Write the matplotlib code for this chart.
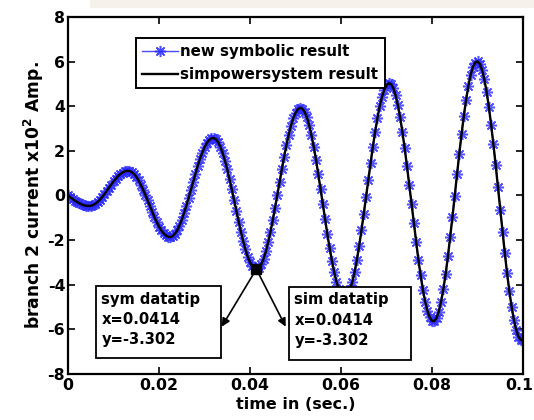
import numpy as np
import matplotlib
matplotlib.use("Agg")
import matplotlib.pyplot as plt
import matplotlib.transforms as mtransforms
from matplotlib.patches import Rectangle
from matplotlib.lines import Line2D

# ---------------- data ----------------
sample_step = 0.0005  # s, spacing of the symbolic-result samples
current = [
    0.00, -0.08, -0.15, -0.23, -0.29, -0.35, -0.40, -0.44, -0.46, -0.47,
    -0.46, -0.43, -0.37, -0.29, -0.19, -0.07, 0.06, 0.20, 0.35, 0.49, 0.63, 0.75, 0.87, 0.96, 1.03, 1.08, 1.11,
    1.10, 1.05, 0.97, 0.84, 0.68, 0.48, 0.26, 0.03, -0.22, -0.48, -0.73, -0.97, -1.19, -1.39, -1.56, -1.69, -1.79, -1.85,
    -1.86, -1.82, -1.71, -1.56, -1.35, -1.09, -0.79, -0.47, -0.11, 0.25, 0.62, 0.98, 1.32, 1.64, 1.91, 2.16, 2.35, 2.48, 2.56,
    2.58, 2.52, 2.39, 2.18, 1.90, 1.56, 1.17, 0.73, 0.27, -0.21, -0.70, -1.18, -1.63, -2.05, -2.42, -2.74, -2.99, -3.17, -3.27,
    -3.30, -3.23, -3.07, -2.83, -2.50, -2.09, -1.63, -1.11, -0.55, 0.02, 0.61, 1.18, 1.74, 2.25, 2.72, 3.13, 3.46, 3.70, 3.86, 3.93,
    3.89, 3.75, 3.50, 3.15, 2.71, 2.19, 1.61, 0.97, 0.30, -0.38, -1.07, -1.73, -2.36, -2.92, -3.43, -3.86, -4.19, -4.42, -4.54,
    -4.55, -4.44, -4.21, -3.87, -3.42, -2.87, -2.25, -1.56, -0.83, -0.07, 0.70, 1.45, 2.18, 2.85, 3.46, 3.99, 4.41, 4.73, 4.94, 5.03,
    4.99, 4.81, 4.49, 4.05, 3.50, 2.84, 2.11, 1.31, 0.47, -0.39, -1.25, -2.08, -2.87, -3.58, -4.23, -4.76, -5.17, -5.46, -5.62,
    -5.63, -5.49, -5.20, -4.76, -4.19, -3.51, -2.73, -1.86, -0.95, -0.01, 0.95, 1.88, 2.76, 3.58, 4.30, 4.92, 5.41, 5.76, 5.96,
    6.01, 5.90, 5.63, 5.21, 4.65, 3.96, 3.17, 2.29, 1.35, 0.36, -0.63, -1.63, -2.58, -3.48, -4.29, -4.99, -5.58, -6.02, -6.32, -6.47, -6.48,
]
time = np.arange(len(current)) * sample_step

series_labels = ["new symbolic result", "simpowersystem result"]
datatip_x = 0.0414
datatip_y = -3.302
datatip_names = ["sym datatip", "sim datatip"]

x_ticks = [0, 0.02, 0.04, 0.06, 0.08, 0.1]
x_ticklabels = ["0", "0.02", "0.04", "0.06", "0.08", "0.1"]
y_ticks = [-8, -6, -4, -2, 0, 2, 4, 6, 8]

# ---------------- style ----------------
plt.rcParams["font.family"] = ["DejaVu Sans"]
plt.rcParams["font.weight"] = "bold"
plt.rcParams["mathtext.default"] = "bf"
plt.rcParams["axes.unicode_minus"] = False

W, H = 534, 420
fig = plt.figure(figsize=(W / 100, H / 100), dpi=100)
fig.patch.set_facecolor("white")
# faint beige band (scan artefact) at the top
fig.patches.append(Rectangle((90 / W, 1 - 8 / H), (W - 90) / W, 8 / H,
                             transform=fig.transFigure, facecolor="#f1e9dd",
                             edgecolor="none", alpha=0.6, zorder=0))

ax = fig.add_axes([68 / W, 1 - 374 / H, 455 / W, 357 / H])

BLUE = "#2a2aff"
ax.plot(time, current, color=BLUE, lw=1.0, marker=(8, 2, 0), ms=8,
        mew=1.1, alpha=0.8, label=series_labels[0], zorder=2)
ax.plot(time, current, color="black", lw=1.7, label=series_labels[1], zorder=3)

ax.set_xlim(0, 0.1)
ax.set_ylim(-8, 8)
ax.set_xticks(x_ticks)
ax.set_xticklabels(x_ticklabels)
ax.set_yticks(y_ticks)
ax.tick_params(direction="in", length=5, width=1.2, top=True, right=True,
               labelsize=11.3, pad=2)
ax.tick_params(axis="x", pad=3)
for lab in ax.get_xticklabels() + ax.get_yticklabels():
    lab.set_fontweight("bold")
for sp in ax.spines.values():
    sp.set_linewidth(1.6)

# keep the last x tick label inside the canvas (as in the reference)
last = ax.get_xticklabels()[-1]
last.set_transform(last.get_transform() +
                   mtransforms.ScaledTranslation(-4 / 100, 0, fig.dpi_scale_trans))

ax.set_xlabel("time in (sec.)", fontsize=11.5, fontweight="bold", labelpad=3)
ax.set_ylabel(r"branch 2 current x10$^2$ Amp.", fontsize=12.3,
              fontweight="bold", labelpad=1)

# legend
h1 = Line2D([], [], color=BLUE, lw=1.0, marker=(8, 2, 0), ms=8, mew=1.1, alpha=0.85)
h2 = Line2D([], [], color="black", lw=1.7)
leg = ax.legend([h1, h2], series_labels, loc="upper left",
                bbox_to_anchor=(0.149, 0.941), borderaxespad=0,
                prop={"weight": "bold", "size": 10.8}, numpoints=1,
                handlelength=2.4, handletextpad=0.15, borderpad=0.42,
                labelspacing=0.52, fancybox=False, framealpha=1,
                edgecolor="black")
leg.get_frame().set_linewidth(1.4)

# datatip marker
ax.plot([datatip_x], [datatip_y], marker="s", color="black", ms=7, zorder=5)

# datatip boxes and arrows
boxes = [(0.00615, 0.03356, -4.06, -7.30), (0.04857, 0.07532, -4.09, -7.38)]
heads = [(0.03378, -5.88), (0.04785, -5.88)]
for name, (x0, x1, yt, yb), (hx, hy) in zip(datatip_names, boxes, heads):
    ax.add_patch(Rectangle((x0, yb), x1 - x0, yt - yb, facecolor="white",
                           edgecolor="black", lw=1.3, zorder=6))
    ax.text(x0 + 0.0012, yt - 0.25,
            f"{name}\nx={datatip_x}\ny={datatip_y}",
            fontsize=10.6, fontweight="bold", va="top", ha="left",
            linespacing=1.45, zorder=7)
    ax.annotate("", xy=(hx, hy), xytext=(datatip_x, datatip_y),
                arrowprops=dict(arrowstyle="-|>", color="black", lw=1.2,
                                mutation_scale=12, shrinkA=0, shrinkB=0),
                zorder=6)

fig.savefig("out.png", dpi=100)
